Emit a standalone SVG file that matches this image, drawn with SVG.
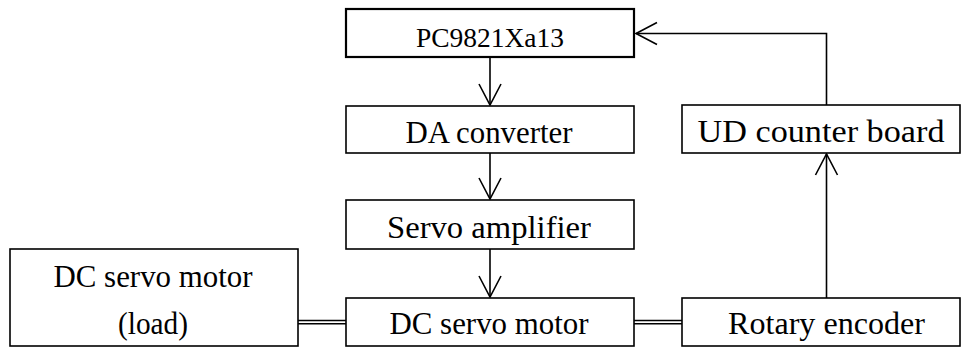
<svg xmlns="http://www.w3.org/2000/svg" width="962" height="347" viewBox="0 0 962 347">
<defs>
<marker id="ah" markerUnits="userSpaceOnUse" viewBox="-23 -12 25 24" refX="0" refY="0" markerWidth="25" markerHeight="24" orient="auto" overflow="visible">
<path d="M-21,-11 L0,0 L-21,11" fill="none" stroke="#000" stroke-width="1.6"/>
</marker>
<style>
.box{fill:#fff;stroke:#000;stroke-width:1.6}
.thick{stroke-width:2.2}
.t{font-family:"Liberation Serif","Times New Roman",serif;font-size:31px;fill:#000;text-anchor:middle}
.pc{font-size:27.5px}
.c{fill:none;stroke:#000;stroke-width:1.6}
</style>
</defs>
<g id="connectors">
<line class="c" x1="490" y1="57" x2="490" y2="105" marker-end="url(#ah)"/>
<line class="c" x1="490" y1="153" x2="490" y2="199" marker-end="url(#ah)"/>
<line class="c" x1="490" y1="249" x2="490" y2="297" marker-end="url(#ah)"/>
<line class="c" x1="826.5" y1="298" x2="826.5" y2="154" marker-end="url(#ah)"/>
<polyline class="c" points="826.5,105 826.5,33.5 636,33.5" marker-end="url(#ah)"/>
<line class="c" x1="298" y1="320.5" x2="346" y2="320.5"/>
<line class="c" x1="298" y1="323.8" x2="346" y2="323.8"/>
<line class="c" x1="634" y1="320.5" x2="682" y2="320.5"/>
<line class="c" x1="634" y1="323.8" x2="682" y2="323.8"/>
</g>
<g id="pc">
<rect class="box thick" x="346" y="9" width="288" height="48"/>
<text class="t pc" x="490" y="46.5" textLength="148" lengthAdjust="spacingAndGlyphs">PC9821Xa13</text>
</g>
<g id="da">
<rect class="box" x="346" y="106" width="288" height="47"/>
<text class="t" x="489" y="143" textLength="167" lengthAdjust="spacingAndGlyphs">DA converter</text>
</g>
<g id="servoamp">
<rect class="box" x="346" y="200" width="288" height="49"/>
<text class="t" x="489" y="237.5" textLength="204" lengthAdjust="spacingAndGlyphs">Servo amplifier</text>
</g>
<g id="motor">
<rect class="box" x="346" y="298" width="288" height="48"/>
<text class="t" x="489" y="334" textLength="199" lengthAdjust="spacingAndGlyphs">DC servo motor</text>
</g>
<g id="load">
<rect class="box" x="10" y="249" width="288" height="97"/>
<text class="t" x="153" y="286.5" textLength="199" lengthAdjust="spacingAndGlyphs">DC servo motor</text>
<text class="t" x="153" y="333.5" textLength="70" lengthAdjust="spacingAndGlyphs">(load)</text>
</g>
<g id="udcounter">
<rect class="box" x="682" y="105" width="278" height="48"/>
<text class="t" x="821" y="142" textLength="247" lengthAdjust="spacingAndGlyphs">UD counter board</text>
</g>
<g id="encoder">
<rect class="box" x="682" y="298" width="278" height="48"/>
<text class="t" x="826.5" y="334" textLength="197" lengthAdjust="spacingAndGlyphs">Rotary encoder</text>
</g>
</svg>
